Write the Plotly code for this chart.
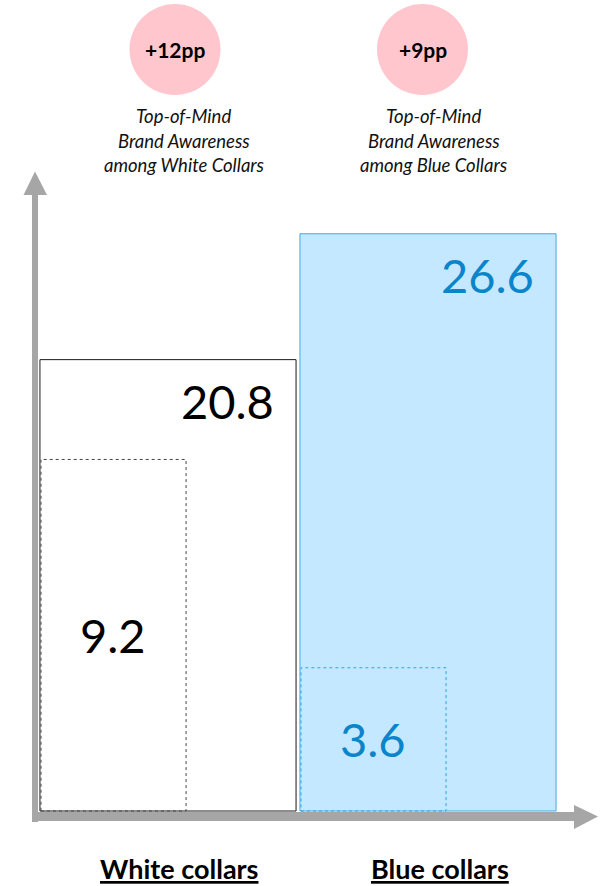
import plotly.graph_objects as go

# ---------------- data ----------------
categories = ["White collars", "Blue collars"]
current_values = [20.8, 26.6]            # outer (current) bars
baseline_labels = ["9.2", "3.6"]         # labels of the inner dotted bars
baseline_bar_heights = [16.2, 6.6]       # inner dotted bar heights as drawn in the picture
uplift_labels = ["+12pp", "+9pp"]
subtitle_lines = [
    ["Top-of-Mind", "Brand Awareness", "among White Collars"],
    ["Top-of-Mind", "Brand Awareness", "among Blue Collars"],
]

# ---------------- style ----------------
W, H = 600, 886
FONT = "Lato"
GRAY = "#A6A6A6"
PINK = "#FFC7CD"
BAR_FILL = ["#FFFFFF", "#C3E8FF"]
BAR_LINE = ["#1A1A1A", "#45A8E0"]
TEXT_COL = ["#000000", "#0B84CA"]
DOT_COL = ["#444444", "#3A9FDC"]
bar_w = 0.985
inner_w = 0.562

def px(x):
    return x / W

def py(y):
    return 1 - y / H

xs = list(range(len(categories)))

fig = go.Figure()
fig.add_trace(go.Bar(
    x=xs, y=current_values, width=bar_w,
    marker=dict(color=BAR_FILL, line=dict(color=BAR_LINE, width=1)),
    hoverinfo="skip", showlegend=False,
))

shapes = []
annotations = []

for i, xv in enumerate(xs):
    left = xv - bar_w / 2
    # inner dotted bar
    shapes.append(dict(
        type="rect", xref="x", yref="y",
        x0=left + 0.004, x1=left + inner_w, y0=0, y1=baseline_bar_heights[i],
        line=dict(color=DOT_COL[i], width=1, dash="dot"),
        fillcolor="rgba(0,0,0,0)", layer="above",
    ))
    # value label of the outer bar
    annotations.append(dict(
        x=xv + bar_w / 2, y=current_values[i], xref="x", yref="y",
        text=f"{current_values[i]}", showarrow=False,
        xanchor="right", yanchor="middle", xshift=-20, yshift=-41,
        font=dict(family=FONT, size=47, color=TEXT_COL[i]),
    ))
    # label of inner bar
    annotations.append(dict(
        x=left + inner_w / 2, y=baseline_bar_heights[i] / 2, xref="x", yref="y",
        text=baseline_labels[i], showarrow=False,
        xanchor="center", yanchor="middle",
        font=dict(family=FONT, size=47, color=TEXT_COL[i]),
    ))

# uplift circles
circle_cx = [175, 422.5]
circle_cy = 49.5
circle_r = 45.5
sub_cx = [183.5, 433.5]
sub_y = [116, 140.5, 165]
label_cx = [179, 440]
for i in range(len(categories)):
    shapes.append(dict(
        type="circle", xref="paper", yref="paper",
        x0=px(circle_cx[i] - circle_r), x1=px(circle_cx[i] + circle_r),
        y0=py(circle_cy + circle_r), y1=py(circle_cy - circle_r),
        fillcolor=PINK, line=dict(width=0), layer="below",
    ))
    annotations.append(dict(
        x=px(circle_cx[i]), y=py(circle_cy), xref="paper", yref="paper",
        text=f"<b>{uplift_labels[i]}</b>", showarrow=False,
        xanchor="center", yanchor="middle",
        font=dict(family=FONT, size=21, color="#000000"),
    ))
    for j, line in enumerate(subtitle_lines[i]):
        annotations.append(dict(
            x=px(sub_cx[i]), y=py(sub_y[j]), xref="paper", yref="paper",
            text=f"<i>{line}</i>", showarrow=False,
            xanchor="center", yanchor="middle",
            font=dict(family=FONT, size=18.5, color="#111111"),
        ))
    annotations.append(dict(
        x=px(label_cx[i]), y=py(868), xref="paper", yref="paper",
        text=f"<b>{categories[i]}</b>", showarrow=False,
        xanchor="center", yanchor="middle",
        font=dict(family=FONT, size=27, color="#000000", lineposition="under"),
    ))

# axes arrows (decoration)
shapes += [
    dict(type="rect", xref="paper", yref="paper",
         x0=px(32), x1=px(38), y0=py(822), y1=py(192),
         fillcolor=GRAY, line=dict(width=0), layer="above"),
    dict(type="path", xref="paper", yref="paper",
         path=f"M {px(23.5)} {py(195)} L {px(35)} {py(171.5)} L {px(47)} {py(195)} Z",
         fillcolor=GRAY, line=dict(width=0), layer="above"),
    dict(type="rect", xref="paper", yref="paper",
         x0=px(32), x1=px(576), y0=py(821), y1=py(812),
         fillcolor=GRAY, line=dict(width=0), layer="above"),
    dict(type="path", xref="paper", yref="paper",
         path=f"M {px(574)} {py(805)} L {px(598)} {py(816.5)} L {px(574)} {py(829)} Z",
         fillcolor=GRAY, line=dict(width=0), layer="above"),
]

px_per_unit = 21.7
zero_px = 811
fig.update_layout(
    width=W, height=H,
    margin=dict(l=0, r=0, t=0, b=0),
    paper_bgcolor="white", plot_bgcolor="white",
    barmode="overlay",
    xaxis=dict(visible=False, range=[-168 / 260, (W - 168) / 260], fixedrange=True),
    yaxis=dict(visible=False, range=[-(H - zero_px) / px_per_unit, zero_px / px_per_unit], fixedrange=True),
    shapes=shapes,
    annotations=annotations,
    showlegend=False,
)

fig.write_html("out.html")
